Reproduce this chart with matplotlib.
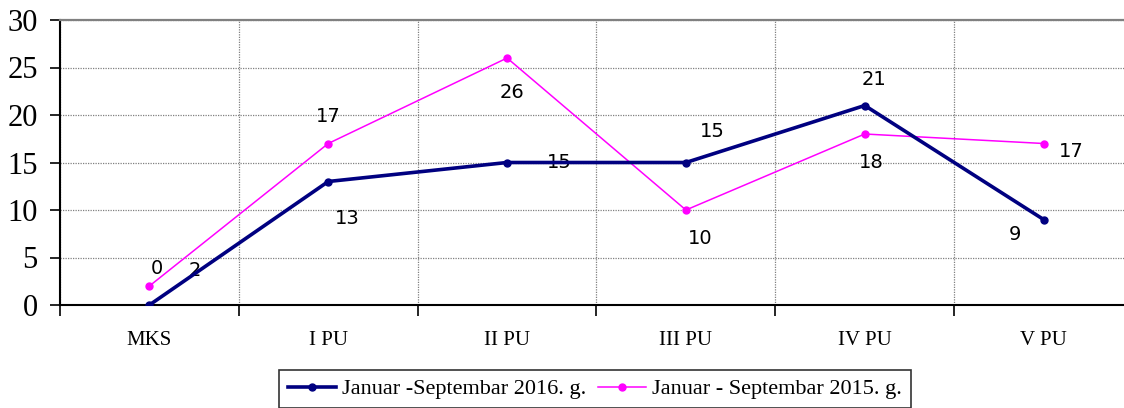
import matplotlib
matplotlib.use("Agg")
import matplotlib.pyplot as plt

categories = ["MKS", "I PU", "II PU", "III PU", "IV PU", "V PU"]
vals_2016 = [0, 13, 15, 15, 21, 9]
vals_2015 = [2, 17, 26, 10, 18, 17]
labels_2016 = ["0", "13", "15", "15", "21", "9"]
labels_2015 = ["2", "17", "26", "10", "18", "17"]

# label offsets in pixels (dx, dy), Excel-like placement
off_2016 = [(7, 36), (19, -37), (52, 0), (26, 31), (9, 26), (-29, -15)]
off_2015 = [(45, 15), (0, 27), (5, -35), (14, -29), (7, -28), (28, -8)]

fig = plt.figure(figsize=(11.24, 4.08), dpi=100)
ax = fig.add_axes([60 / 1124, 103 / 408, 1073 / 1124, 285 / 408])

x = list(range(len(categories)))
l1, = ax.plot(x, vals_2016, color="#000080", lw=2.6, marker="o", ms=5, label="Januar -Septembar 2016. g.", zorder=4)
l2, = ax.plot(x, vals_2015, color="#FF00FF", lw=1.1, marker="o", ms=5, label="Januar - Septembar 2015. g.", zorder=3)

for xi, v, t, (dx, dy) in zip(x, vals_2016, labels_2016, off_2016):
    ax.annotate(t, (xi, v), xytext=(dx, dy), textcoords="offset pixels",
                ha="center", va="center", fontsize=14, family="DejaVu Sans")
for xi, v, t, (dx, dy) in zip(x, vals_2015, labels_2015, off_2015):
    ax.annotate(t, (xi, v), xytext=(dx, dy), textcoords="offset pixels",
                ha="center", va="center", fontsize=14, family="DejaVu Sans")

ax.set_xlim(-0.5, len(categories) - 0.5)
ax.set_ylim(0, 30)
ax.set_yticks(range(0, 31, 5))
ax.set_xticks(x)
ax.set_xticklabels(categories, family="Liberation Serif", fontsize=15)
ax.set_xticks([i - 0.5 for i in range(len(categories) + 1)], minor=True)
ax.tick_params(axis="x", which="major", length=0, pad=19)
ax.tick_params(axis="x", which="minor", length=8, width=1.2, direction="out")
ax.tick_params(axis="y", length=7, width=1.2, direction="out", pad=9)
for lab in ax.get_yticklabels():
    lab.set_family("Liberation Serif")
    lab.set_fontsize(22)

ax.grid(True, axis="y", which="major", color="#808080", ls=(0, (1, 1)), lw=0.9)
ax.grid(True, axis="x", which="minor", color="#808080", ls=(0, (1, 1)), lw=0.9)

ax.spines["top"].set_color("#808080")
ax.spines["top"].set_linewidth(1.6)
ax.spines["right"].set_visible(False)
ax.spines["left"].set_linewidth(1.5)
ax.spines["bottom"].set_linewidth(1.5)

leg = fig.legend(handles=[l1, l2], loc="center", bbox_to_anchor=(595 / 1124, 19 / 408),
                 ncol=2, frameon=True, fancybox=False, edgecolor="black",
                 prop={"family": "Liberation Serif", "size": 16}, handlelength=2.16,
                 columnspacing=0.55, handletextpad=0.25, borderpad=0.4, borderaxespad=0)
leg.get_frame().set_linewidth(1.2)

fig.savefig("out.png", dpi=100)
